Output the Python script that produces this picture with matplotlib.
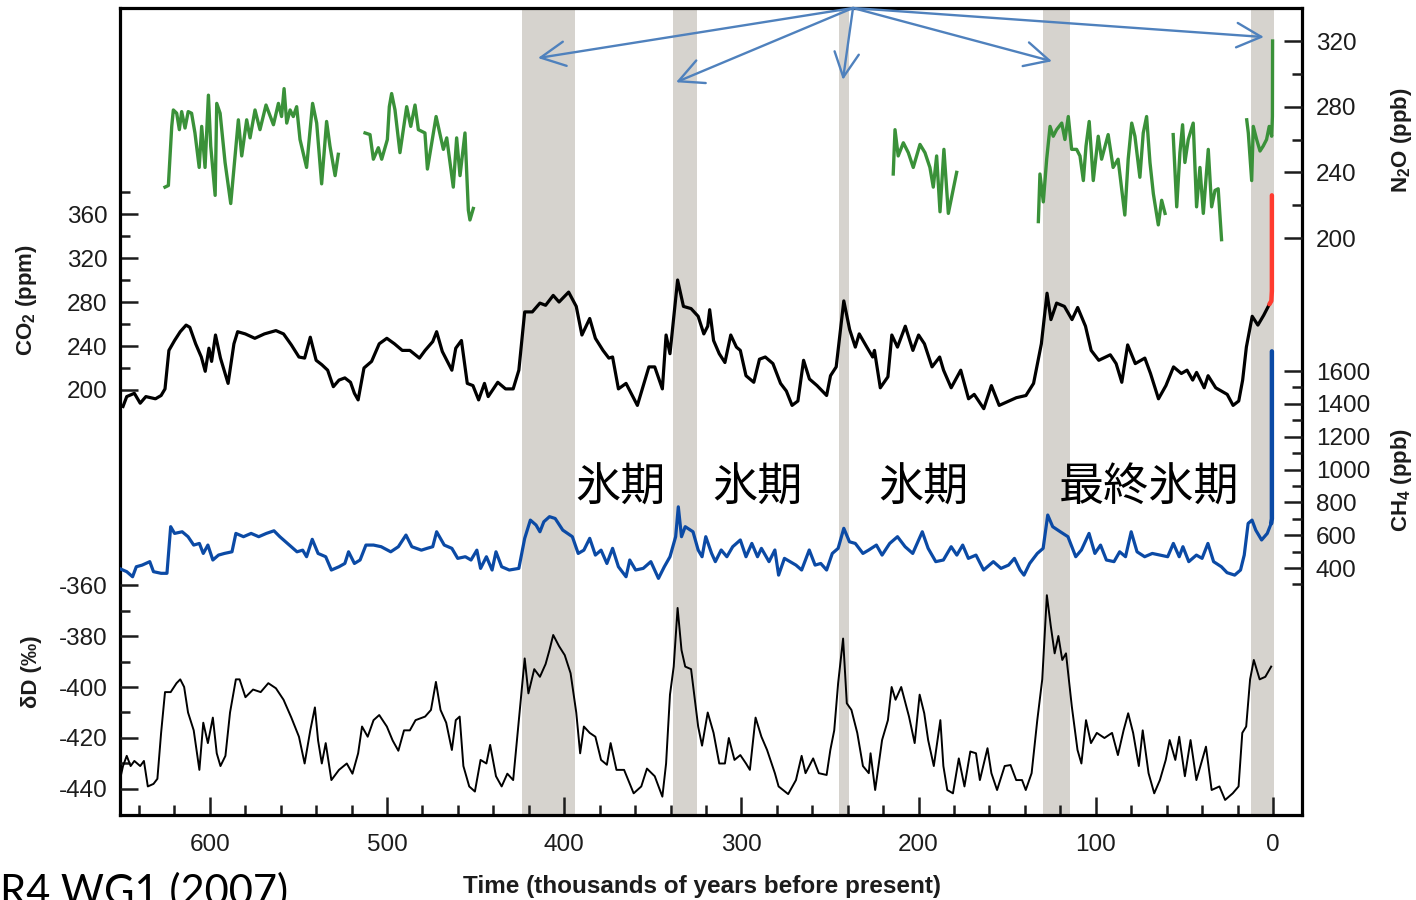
import numpy as np
import matplotlib
matplotlib.use("Agg")
import matplotlib.pyplot as plt
from matplotlib.ticker import FixedLocator, MultipleLocator
import matplotlib.transforms as mtransforms

plt.rcParams['font.family'] = ['Liberation Sans', 'DejaVu Sans']
plt.rcParams['mathtext.fontset'] = 'custom'
plt.rcParams['mathtext.rm'] = 'Liberation Sans'
plt.rcParams['mathtext.bf'] = 'Liberation Sans:bold'
plt.rcParams['axes.unicode_minus'] = False

# ---- Antarctic ice core records, time in kyr before present ----
co2_kyr = [649.0, 646.9, 642.6, 639.3, 636.1, 630.7, 627.5, 625.3, 623.1, 619.9,
           616.7, 613.4, 611.3, 608.0, 604.8, 602.6, 600.5, 599.0, 596.8, 594.0,
           589.7, 586.4, 584.3, 580.0, 574.6, 569.2, 562.7, 558.4, 554.0, 549.7,
           546.5, 543.3, 540.0, 536.8, 533.5, 530.3, 527.1, 523.8, 520.6, 518.4,
           516.3, 513.0, 508.7, 504.4, 500.1, 495.8, 491.4, 487.1, 481.7, 478.5,
           474.2, 472.0, 468.8, 463.4, 461.2, 458.0, 454.7, 451.5, 448.3, 445.0,
           442.9, 437.5, 433.1, 428.8, 425.6, 422.3, 418.0, 413.7, 410.5, 406.2,
           402.9, 397.5, 393.2, 390.0, 385.6, 382.4, 378.1, 374.8, 372.7, 369.4,
           365.1, 358.7, 352.2, 348.9, 344.6, 342.5, 340.3, 336.0, 332.7, 328.4,
           324.4, 321.2, 319.0, 317.9, 315.7, 312.5, 309.3, 306.0, 302.8, 300.6,
           297.4, 293.0, 289.8, 286.5, 282.2, 277.9, 274.6, 271.4, 268.1, 264.9,
           261.6, 257.3, 251.9, 249.7, 246.5, 242.2, 238.9, 235.7, 233.5, 229.2,
           225.9, 224.9, 221.6, 217.3, 215.1, 211.9, 207.5, 203.2, 200.0, 196.7,
           192.4, 188.1, 185.9, 181.6, 176.2, 171.8, 168.6, 163.2, 158.9, 154.5,
           144.8, 139.4, 135.1, 130.7, 127.5, 125.3, 122.1, 117.7, 113.4, 110.2,
           105.8, 102.6, 98.3, 91.8, 88.5, 85.3, 82.0, 77.7, 72.3, 69.1,
           64.6, 60.4, 56.1, 51.7, 48.5, 45.3, 43.1, 38.8, 36.6, 32.3,
           25.8, 22.5, 19.3, 17.1, 15.0, 11.7, 8.5, 5.2, 2.0]
co2_ppm = [185, 194, 197, 188, 194, 192, 195, 201, 236, 245,
           253, 259, 257, 242, 230, 217, 238, 226, 250, 229,
           206, 242, 253, 251, 247, 251, 254, 251, 241, 230,
           229, 248, 227, 223, 218, 203, 209, 211, 207, 197,
           191, 220, 226, 242, 247, 242, 236, 236, 229, 236,
           244, 253, 235, 218, 238, 245, 206, 204, 191, 206,
           194, 207, 201, 201, 218, 271, 271, 279, 277, 286,
           280, 289, 276, 250, 265, 247, 236, 229, 230, 201,
           206, 186, 221, 221, 201, 250, 233, 300, 276, 274,
           267, 251, 258, 273, 245, 233, 225, 250, 239, 236,
           213, 207, 228, 230, 224, 206, 199, 186, 190, 227,
           210, 204, 195, 213, 221, 281, 255, 239, 251, 239,
           230, 236, 202, 212, 250, 239, 258, 236, 250, 242,
           221, 230, 218, 202, 218, 192, 196, 183, 204, 186,
           193, 195, 206, 242, 288, 264, 279, 276, 264, 275,
           258, 236, 227, 232, 224, 207, 241, 224, 229, 215,
           192, 204, 221, 215, 218, 209, 216, 202, 213, 202,
           196, 186, 190, 209, 239, 267, 259, 268, 278]
co2_recent_kyr = [2.0, 0.9, 0.6, 0.6]
co2_recent_ppm = [278, 281, 290, 377]

ch4_kyr = [651.2, 646.9, 643.6, 641.5, 638.2, 633.9, 631.8, 627.5, 624.2, 622.1,
           619.9, 615.6, 612.3, 609.1, 605.9, 603.7, 601.1, 598.3, 595.1, 591.8,
           587.5, 585.3, 581.0, 576.7, 572.4, 568.1, 563.8, 560.5, 556.2, 550.8,
           547.6, 545.4, 542.2, 538.9, 534.6, 531.4, 527.1, 523.8, 521.7, 518.4,
           515.2, 511.9, 507.6, 503.3, 497.9, 493.6, 489.3, 486.0, 480.6, 477.4,
           474.2, 472.0, 467.7, 463.4, 460.1, 455.8, 452.6, 449.3, 447.2, 443.9,
           440.7, 438.5, 435.3, 431.0, 425.6, 422.3, 419.1, 415.9, 413.7, 411.5,
           408.3, 405.1, 400.8, 395.4, 392.1, 388.9, 385.6, 382.4, 379.2, 375.9,
           372.7, 369.4, 365.1, 363.0, 359.7, 355.4, 351.1, 346.8, 343.5, 340.3,
           337.1, 335.6, 333.8, 331.7, 327.3,
           324.4, 322.2, 320.1, 316.8, 314.7, 311.4, 308.2, 304.9, 300.6, 297.4,
           294.1, 290.9, 288.7, 284.4, 281.1, 279.0, 275.7, 272.5, 269.2, 266.0,
           261.7, 258.4, 255.2, 251.9, 248.7, 245.4, 242.2, 239.0, 235.7, 231.4,
           228.1, 223.8, 220.6, 216.3, 211.9, 207.6, 203.3, 197.9, 194.6, 190.3,
           186.0, 181.6, 178.4, 175.1, 171.9, 167.6, 163.3, 157.8, 153.5, 149.2,
           145.9, 142.7, 140.5, 137.3, 133.0, 129.7, 127.1, 124.3, 120.0, 115.7,
           111.3, 108.1, 103.8, 100.5, 97.3, 94.0, 89.7, 86.5, 83.2, 80.0,
           76.7, 72.4, 68.1, 63.8, 59.4, 56.2, 52.9, 50.8, 47.5, 43.2,
           40.0, 36.7, 33.5, 29.1, 25.9, 21.6, 18.3, 16.2, 14.0, 11.8,
           9.7, 6.4, 3.2, 1.0]
ch4_ppb = [398, 378, 347, 408, 418, 439, 378, 368, 368, 652,
           611, 621, 591, 540, 550, 489, 540, 449, 479, 489,
           499, 611, 591, 611, 591, 611, 627, 591, 550, 499,
           509, 469, 575, 489, 469, 388, 408, 428, 499, 428,
           449, 540, 540, 530, 499, 530, 601, 530, 509, 520,
           530, 621, 540, 520, 459, 469, 449, 509, 398, 469,
           388, 499, 408, 388, 398, 581, 692, 662, 621, 682,
           713, 702, 631, 591, 489, 509, 581, 479, 509, 428,
           520, 408, 347, 449, 388, 398, 439, 337, 408, 469,
           591, 773, 591, 652, 621,
           510, 469, 591, 489, 439, 510, 469, 530, 571, 469,
           550, 469, 520, 439, 510, 357, 459, 439, 418, 388,
           510, 418, 428, 388, 489, 520, 642, 560, 550, 489,
           510, 540, 479, 550, 591, 530, 489, 621, 520, 439,
           449, 530, 479, 540, 459, 479, 388, 439, 398, 418,
           459, 388, 357, 428, 489, 520, 723, 652, 621, 591,
           469, 510, 611, 489, 540, 449, 439, 499, 469, 621,
           499, 469, 489, 479, 469, 550, 469, 530, 439, 479,
           459, 550, 439, 408, 372, 357, 388, 479, 672, 692,
           631, 571, 611, 672]
ch4_recent_kyr = [1.0, 0.6, 0.6]
ch4_recent_ppb = [672, 700, 1720]

nan = np.nan
n2o_kyr = [625.3, 623.4, 621.5, 620.6, 618.7, 617.2, 615.9, 614.0, 612.2, 610.3,
           608.4, 606.0, 604.6, 602.7, 600.8, 599.5, 597.0, 596.1, 594.2, 591.4,
           588.2, 583.9, 582.0, 579.2, 577.3, 574.5, 571.7, 568.3, 564.1, 561.3,
           559.5, 558.1, 556.6, 554.7, 552.9, 551.0, 549.1, 545.4, 542.0, 539.7,
           536.9, 534.1, 532.2, 529.3, 527.5, nan,
           512.4, 509.6, 507.7, 504.9, 503.0, 499.8, 498.7, 497.4, 495.5, 492.7,
           488.9, 486.6, 484.2, 482.3, 478.6, 477.2, 472.3, 468.2, 466.3, 462.6,
           460.7, 458.8, 456.0, 454.1, 453.2, 451.3, nan,
           214.3, 213.3, 211.5, 208.6, 205.8, 203.0, 199.2, 196.4, 193.6, 191.7,
           189.8, 187.9, 185.7, 183.2, 178.5, nan,
           132.4, 131.5, 129.6, 127.7, 125.8, 124.0, 122.1, 119.2, 117.4, 115.5,
           113.6, 110.8, 108.9, 107.0, 105.5, 103.7, 101.4, 98.6, 96.7, 93.0,
           90.2, 87.4, 83.6, 81.7, 79.7, 77.9, 75.1, 73.2, 71.3, 69.4,
           67.5, 64.7, 62.8, 60.9, nan,
           56.3, 54.3, 52.5, 51.0, 49.7, 47.8, 45.0, 43.1, 41.2, 39.3,
           36.5, 34.6, 32.7, 30.9, 29.0, nan,
           14.8, 13.9, 12.0, 11.1, 9.2, 7.3, 5.5, 3.6, 2.1, 0.7,
           0.3, 0.2]
n2o_ppb = [231, 232, 268, 278, 276, 266, 277, 267, 277, 276,
           264, 243, 268, 243, 287, 256, 226, 282, 276, 246,
           221, 272, 250, 272, 261, 278, 266, 281, 269, 282,
           274, 291, 270, 278, 274, 280, 260, 243, 282, 270,
           233, 271, 256, 238, 251, nan,
           264, 263, 248, 255, 248, 260, 280, 288, 278, 252,
           280, 268, 281, 266, 264, 242, 274, 254, 261, 231,
           261, 238, 264, 217, 211, 218, nan,
           239, 266, 250, 258, 252, 243, 257, 252, 243, 231,
           250, 216, 254, 215, 240, nan,
           210, 239, 222, 248, 268, 262, 266, 270, 260, 274,
           254, 254, 250, 235, 256, 271, 235, 262, 248, 263,
           243, 248, 214, 248, 270, 262, 237, 264, 274, 246,
           227, 208, 223, 215, nan,
           263, 219, 252, 269, 246, 260, 270, 219, 243, 215,
           254, 219, 229, 230, 199, nan,
           272, 264, 235, 268, 260, 253, 256, 260, 268, 262,
           274, 320]

dd_kyr = [651.2, 649.0, 646.9, 644.7, 642.6, 639.3, 637.2, 635.0, 631.8, 629.6,
          627.5, 625.3, 622.1, 618.8, 616.7, 614.5, 612.3, 609.1, 605.9, 603.7,
          601.1, 598.3, 596.1, 594.0, 591.2, 588.6, 585.3, 583.2, 579.9, 575.6,
          571.3, 567.0, 562.7, 558.4, 554.0, 549.7, 546.5, 543.3, 540.7, 538.9,
          536.8, 534.6, 531.4, 527.1, 522.7, 519.5, 516.3, 514.1, 510.9, 507.6,
          504.4, 500.1, 496.8, 493.6, 490.4, 487.1, 483.9, 478.5, 475.2, 472.4,
          469.8, 466.6, 463.4, 461.2, 459.0, 456.9, 453.6, 450.4, 447.2, 443.9,
          441.8, 438.5, 435.3, 432.1, 428.8, 426.7, 424.5, 422.3, 420.2, 416.9,
          413.7, 410.5, 408.3, 406.2, 402.9, 399.7, 396.4, 393.2, 391.0, 388.9,
          385.6, 382.4, 379.2, 375.9, 373.8, 370.5, 366.2, 360.8, 356.5, 353.3,
          348.9, 344.6, 342.5, 340.3, 338.2, 336.0, 333.8, 331.7, 328.4,
          324.4, 322.2, 319.0, 315.7, 312.5, 309.3, 307.1, 303.9, 300.6, 297.4,
          295.2, 292.0, 288.7, 285.5, 281.1, 279.0, 273.6, 269.2, 266.0, 263.8,
          259.5, 256.3, 251.9, 249.8, 247.6, 245.4, 242.6, 240.5, 237.9, 234.6,
          231.4, 228.1, 227.1, 224.5, 220.6, 217.3, 215.2, 213.0, 209.8, 205.4,
          202.2, 199.4, 196.8, 194.6, 191.4, 187.7, 186.0, 183.8, 180.6, 177.3,
          174.1, 170.8, 167.6, 165.4, 161.1, 158.9, 155.7, 151.4, 148.1, 144.9,
          141.6, 139.5, 136.2, 133.0, 130.2, 127.6, 125.4, 123.2, 121.1, 118.9,
          116.8, 113.5, 110.3, 108.1, 105.5, 102.7, 99.4, 95.1, 90.8, 87.5,
          84.3, 81.7, 78.9, 75.7, 73.5, 70.2, 67.0, 63.8, 60.5, 58.3,
          55.1, 52.9, 49.7, 46.5, 43.2, 37.8, 34.6, 30.2, 27.0, 22.7,
          19.4, 17.3, 15.1, 12.9, 10.8, 7.5, 4.3, 1.0]
dd_permil = [-437.8, -431, -427, -431, -429, -431, -429, -439, -438, -436,
             -418, -402, -402, -398.5, -397, -400, -410, -417, -432.5, -414,
             -422, -412, -426, -431, -427, -410, -397, -397, -404, -401,
             -402, -398.5, -400.5, -405, -412, -419.5, -430, -417, -408, -421,
             -430, -422, -436.5, -432.5, -430, -434, -426, -415.5, -419.5, -413,
             -411, -415.5, -421, -425, -417, -417, -413, -411.6, -409, -398,
             -409, -414, -424.7, -413, -411.6, -431, -439, -441, -428.6, -430,
             -422.7, -435, -439, -434, -436.5, -421, -405, -388.8, -402.5, -393,
             -396, -391, -385.5, -379.6, -384, -387.5, -394.6, -410, -426, -415.5,
             -418, -419.5, -428.6, -430.5, -422, -432.5, -432.5, -441.7, -439, -432,
             -435, -443, -430, -403, -392, -369, -385.5, -392, -393,
             -415.5, -423, -410, -418, -430, -430, -420, -428.6, -426.7, -430,
             -432.5, -412, -419.5, -424.7, -433.8, -439, -442, -436.5, -427, -433.8,
             -428, -433.8, -434.5, -424.7, -417, -398.5, -381, -406.4, -409, -418,
             -431, -433.8, -426, -440.4, -420.8, -413, -400, -405, -400, -411.6,
             -422, -403, -410.3, -420.8, -431, -413, -431, -440.4, -441.7, -428,
             -439, -425.3, -426, -436.5, -424, -433.8, -440.4, -431, -430.6, -436.5,
             -436.5, -440.4, -433.8, -413, -397, -364, -376, -386.8, -380, -389.4,
             -386.8, -407.7, -424.7, -430, -413, -422, -418, -420, -418, -426.7,
             -417, -410.3, -418, -431, -417, -433.8, -441.7, -436.5, -428.6, -420.8,
             -428.6, -419.5, -435, -420.8, -436.5, -423.4, -440.4, -439, -444.3, -441.7,
             -439, -418, -415.5, -397, -389.4, -397, -396, -392]

# interglacial periods (start, end) in kyr BP
interglacials = [(423.8, 393.9), (338.6, 325.0), (245.1, 239.5), (129.6, 114.4), (12.5, -0.8)]
glacial_names = ['氷期', '氷期', '氷期', '最終氷期']
glacial_kyr = [368.5, 291.0, 197.5, 70.0]

# arrows fan out from one point on the top edge towards the interglacials
arrow_from = (237.0, 1.0)
arrow_to_kyr = [414.8, 336.9, 242.7, 124.7, 5.1]
arrow_to_y = [0.938, 0.908, 0.911, 0.934, 0.964]

fig = plt.figure(figsize=(14.16, 9.0), dpi=100)
rect = [120 / 1416, 85 / 900, 1182 / 1416, 807 / 900]
xlim = (650.7, -16.4)
ink = '#1c1c1c'

ax = fig.add_axes(rect)
ax.set_xlim(*xlim)
ax.set_ylim(-186.4, 547.3)
for s in ax.spines.values():
    s.set_linewidth(2.3)

for a, b in interglacials:
    ax.axvspan(a, b, color='#d6d3ce', lw=0, zorder=0)

ax.xaxis.set_major_locator(FixedLocator([600, 500, 400, 300, 200, 100, 0]))
ax.xaxis.set_minor_locator(MultipleLocator(20))
ax.set_yticks([200, 240, 280, 320, 360])
ax.yaxis.set_minor_locator(FixedLocator([220, 260, 300, 340, 380]))
ax.tick_params(axis='both', which='both', direction='in', width=1.8,
               colors=ink, labelsize=17.5, top=False, right=False)
ax.tick_params(axis='both', which='major', length=13)
ax.tick_params(axis='both', which='minor', length=7)
ax.tick_params(axis='x', pad=13.5)
ax.tick_params(axis='y', pad=9)
ax.plot(co2_kyr, co2_ppm, color='black', lw=2.3)
ax.plot(co2_recent_kyr, co2_recent_ppm, color='#ff3b2f', lw=3.2, solid_capstyle='round')


def overlay(ylim, side):
    o = fig.add_axes(rect)
    o.set_xlim(*xlim)
    o.set_ylim(*ylim)
    o.patch.set_visible(False)
    for s in o.spines.values():
        s.set_visible(False)
    o.tick_params(axis='x', which='both', bottom=False, labelbottom=False)
    if side == 'right':
        o.yaxis.tick_right()
        o.tick_params(axis='y', which='both', direction='in', width=1.8,
                      colors=ink, labelsize=17.5, pad=10, left=False, right=True)
    else:
        o.tick_params(axis='y', which='both', direction='in', width=1.8,
                      colors=ink, labelsize=17.5, pad=9)
    o.tick_params(axis='y', which='major', length=13)
    o.tick_params(axis='y', which='minor', length=7)
    return o


ax_dd = overlay((-450.2, -133.7), 'left')
ax_dd.set_yticks([-440, -420, -400, -380, -360])
ax_dd.yaxis.set_minor_locator(FixedLocator([-430, -410, -390, -370]))
ax_dd.plot(dd_kyr, dd_permil, color='black', lw=1.4)

ax_ch4 = overlay((-1104, 3811), 'right')
ax_ch4.set_yticks([400, 600, 800, 1000, 1200, 1400, 1600])
ax_ch4.yaxis.set_minor_locator(FixedLocator([300, 500, 700, 900, 1100, 1300, 1500]))
ax_ch4.plot(ch4_kyr, ch4_ppb, color='#0b4aa5', lw=2.3)
ax_ch4.plot(ch4_recent_kyr, ch4_recent_ppb, color='#0b4aa5', lw=3.2, solid_capstyle='round')

ax_n2o = overlay((-151.4, 340.1), 'right')
ax_n2o.set_yticks([200, 240, 280, 320])
ax_n2o.yaxis.set_minor_locator(FixedLocator([220, 260, 300]))
ax_n2o.plot(n2o_kyr, n2o_ppb, color='#3a9139', lw=2.4)

# axis titles
lab = dict(transform=ax.transAxes, rotation=90, ha='center', va='center',
           fontsize=16, fontweight='bold', color=ink)
ax.text(-0.0795, 0.638, r'CO$_\mathbf{2}$ (ppm)', **lab)
ax.text(-0.0745, 0.177, 'δD (‰)', **lab)
ax.text(1.0846, 0.836, r'N$_\mathbf{2}$O (ppb)', **lab)
ax.text(1.0846, 0.415, r'CH$_\mathbf{4}$ (ppb)', **lab)
ax.text(0.4925, -0.088, 'Time (thousands of years before present)', transform=ax.transAxes,
        ha='center', va='center', fontsize=17.5, fontweight='bold', color=ink)

top = ax_n2o
mixed = mtransforms.blended_transform_factory(ax.transData, ax.transAxes)
for name, k in zip(glacial_names, glacial_kyr):
    top.text(k, 0.406, name, transform=mixed, ha='center', va='center',
             fontsize=32.5, family=['Noto Sans CJK JP', 'DejaVu Sans'], color='black')

for k, y in zip(arrow_to_kyr, arrow_to_y):
    top.annotate('', xy=(k, y), xytext=arrow_from, xycoords=mixed, textcoords=mixed,
                 arrowprops=dict(arrowstyle='->,head_length=0.8,head_width=0.4',
                                 color='#4f81bd', lw=1.7, shrinkA=0, shrinkB=0,
                                 mutation_scale=22))

fig.text(-0.0198, -0.005, 'AR4 WG1 (2007)', ha='left', va='baseline',
         fontsize=30, family=['Lato', 'DejaVu Sans'], color='black')

fig.savefig('out.png', dpi=100)
